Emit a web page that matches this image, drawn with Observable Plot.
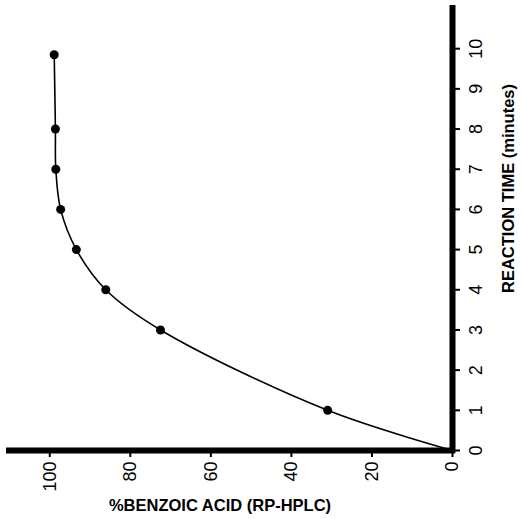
<!DOCTYPE html>
<html>
<head>
<meta charset="utf-8">
<script src="https://cdn.jsdelivr.net/npm/d3@7"></script>
<script src="https://cdn.jsdelivr.net/npm/@observablehq/plot@0.6"></script>
<style>
  html, body { margin: 0; padding: 0; background: #fff; }
  svg { display: block; }
</style>
</head>
<body>
<div id="chart"></div>
<script>
// Reaction time (minutes) and % benzoic acid (RP-HPLC)
const times = [0, 1, 3, 4, 5, 6, 7, 8, 9.85];
const benzoic = [0, 31.0, 72.5, 86.1, 93.4, 97.3, 98.5, 98.6, 98.9];
const xTicks = [0, 20, 40, 60, 80, 100];
const yTicks = [0, 1, 2, 3, 4, 5, 6, 7, 8, 9, 10];
const xLabel = "%BENZOIC ACID (RP-HPLC)";
const yLabel = "REACTION TIME (minutes)";

const data = times.map((t, i) => ({t, p: benzoic[i]}));
const dots = data.filter(d => d.t > 0);

const chart = Plot.plot({
  width: 521,
  height: 519,
  marginLeft: 9,
  marginRight: 69,
  marginTop: 8,
  marginBottom: 69,
  style: {fontFamily: "'Liberation Sans', Arial, Helvetica, sans-serif", color: "#000", background: "#fff"},
  x: {domain: [110, 0]},
  y: {domain: [0, 11]},
  marks: [
    Plot.line(data, {x: "p", y: "t", curve: "catmull-rom", stroke: "#000", strokeWidth: 1.6}),
    Plot.dot(dots, {x: "p", y: "t", r: 4.5, fill: "#000", stroke: "none"}),
    Plot.axisX({ticks: xTicks, tickSize: 7, tickRotate: -90, tickPadding: 4, fontSize: 18, strokeWidth: 2, label: null}),
    Plot.axisY({anchor: "right", ticks: yTicks, tickSize: 7, tickFormat: () => "", strokeWidth: 2, label: null}),
    Plot.text(yTicks, {y: d => d, text: d => String(d), frameAnchor: "right", rotate: -90, textAnchor: "middle", dx: 24, fontSize: 18}),
    Plot.ruleY([0], {stroke: "#000", strokeWidth: 6, strokeLinecap: "square"}),
    Plot.ruleX([0], {stroke: "#000", strokeWidth: 6, strokeLinecap: "square"}),
    Plot.text([xLabel], {text: d => d, frameAnchor: "bottom", textAnchor: "middle", dy: 60, dx: -11, fontSize: 16.5, fontWeight: "bold"}),
    Plot.text([yLabel], {text: d => d, frameAnchor: "right", rotate: -90, textAnchor: "middle", dx: 56, dy: -41, fontSize: 16.5, fontWeight: "bold"})
  ]
});
document.getElementById("chart").appendChild(chart);
</script>
</body>
</html>
